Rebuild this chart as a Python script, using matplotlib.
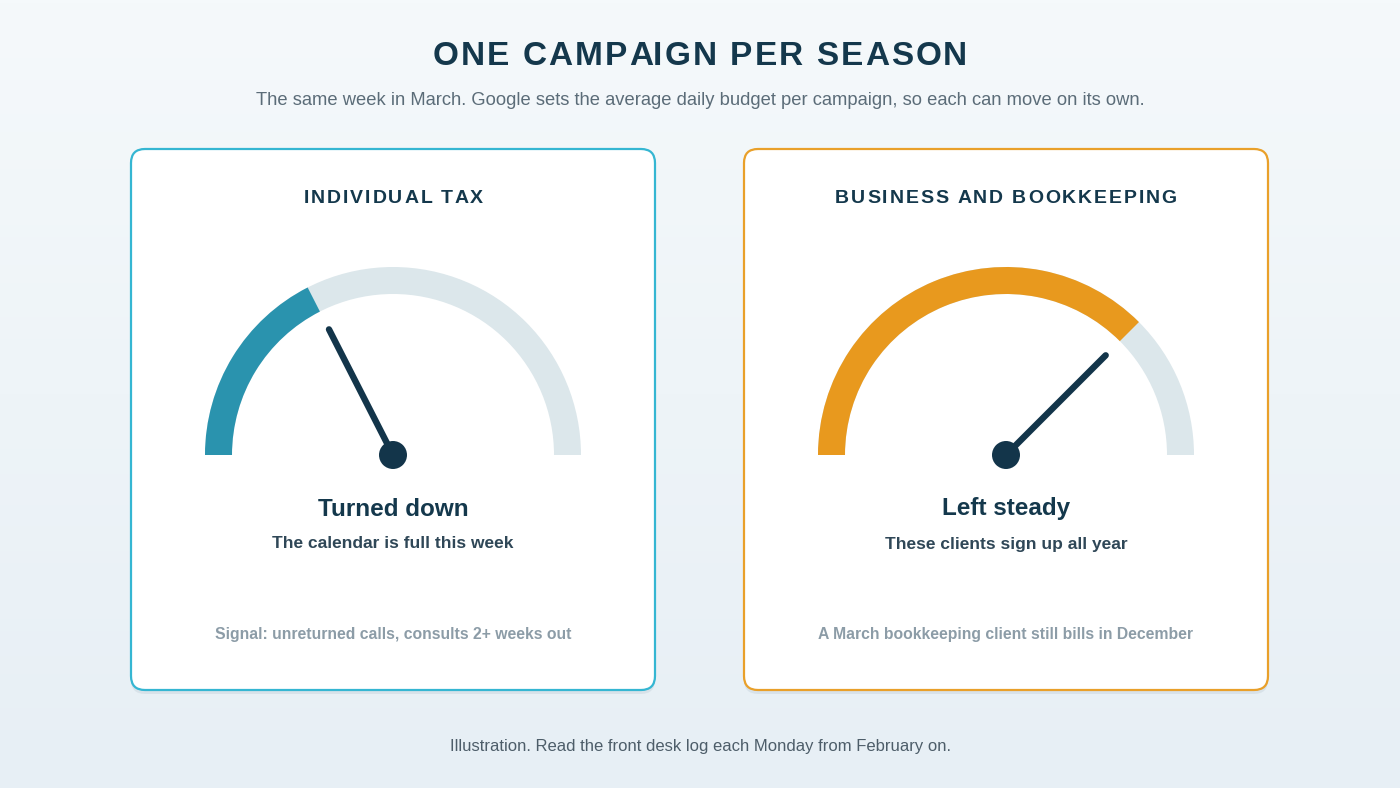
import numpy as np
import matplotlib
matplotlib.use("Agg")
import matplotlib.pyplot as plt
from matplotlib.patches import Wedge, Circle, FancyBboxPatch
from matplotlib.colors import LinearSegmentedColormap

plt.rcParams['font.family'] = ['Liberation Sans', 'DejaVu Sans']

# ---- data ----
title = "ONE CAMPAIGN PER SEASON"
subtitle = ("The same week in March. Google sets the average daily budget per campaign, "
            "so each can move on its own.")
footer = "Illustration. Read the front desk log each Monday from February on."
card_titles = ["INDIVIDUAL TAX", "BUSINESS AND BOOKKEEPING"]
gauge_values = [0.35, 0.75]          # share of the dial filled (0 = left, 1 = right)
verdicts = ["Turned down", "Left steady"]
reasons = ["The calendar is full this week", "These clients sign up all year"]
notes = ["Signal: unreturned calls, consults 2+ weeks out",
         "A March bookkeeping client still bills in December"]
accent_colors = ["#2a93ae", "#e8991e"]
border_colors = ["#35b6d2", "#e9a02a"]

W, H = 1400, 788
fig = plt.figure(figsize=(W / 100, H / 100), dpi=100)
ax = fig.add_axes([0, 0, 1, 1])
ax.set_xlim(0, W)
ax.set_ylim(H, 0)
ax.axis('off')
renderer = fig.canvas.get_renderer()


def spaced_text(xc, y, s, spacing, **kw):
    """Draw text centred at xc with extra letter spacing (pixels)."""
    def width(t):
        if not t:
            return 0.0
        tt = ax.text(0, 0, t, **kw)
        w = tt.get_window_extent(renderer).width
        tt.remove()
        return w
    total = width(s) + spacing * (len(s) - 1)
    x0 = xc - total / 2
    for i, ch in enumerate(s):
        if ch == ' ':
            continue
        xi = x0 + width(s[:i]) + spacing * i
        ax.text(xi, y, ch, ha='left', va='center', **kw)


# background gradient
grad = np.linspace(0, 1, 256).reshape(-1, 1)
bg = LinearSegmentedColormap.from_list('bg', ['#f5f9fb', '#e7eff5'])
ax.imshow(grad, extent=[0, W, H, 0], cmap=bg, aspect='auto', zorder=0)

spaced_text(W / 2, 56, title, 2.1, fontsize=24, fontweight='bold',
            color='#14384c', zorder=5)
ax.text(W / 2, 100, subtitle, ha='center', va='center', fontsize=13.2,
        color='#5b6c78', zorder=5)
ax.text(W / 2, 747, footer, ha='center', va='center', fontsize=12.0,
        color='#4d5d69', zorder=5)

card_x = [131, 744]
card_w, card_y, card_h = 524, 149, 541
r_out, r_in = 188, 161

for i in range(2):
    x0 = card_x[i]
    cx = x0 + card_w / 2
    sh = FancyBboxPatch((x0 + 14, card_y + 14 + 4), card_w - 28, card_h - 28,
                        boxstyle="round,pad=14", fc='#c9d6de', ec='none', alpha=0.5, zorder=1)
    ax.add_patch(sh)
    card = FancyBboxPatch((x0 + 14, card_y + 14), card_w - 28, card_h - 28,
                          boxstyle="round,pad=14", fc='white', ec=border_colors[i],
                          lw=1.6, zorder=2)
    ax.add_patch(card)

    spaced_text(cx, 198, card_titles[i], 1.9, fontsize=14, fontweight='bold',
                color='#14384c', zorder=5)

    gy = 455
    v = gauge_values[i]
    end_ang = 180 - 180 * v
    # y axis is inverted, so the upper half-circle spans angles -180..0
    ax.add_patch(Wedge((cx, gy), r_out, -180, 0, width=r_out - r_in,
                       fc='#dce7eb', ec='none', zorder=3))
    ax.add_patch(Wedge((cx, gy), r_out, -180, -end_ang, width=r_out - r_in,
                       fc=accent_colors[i], ec='none', zorder=3))
    L = 141
    th = np.deg2rad(end_ang)
    ax.plot([cx, cx + L * np.cos(th)], [gy, gy - L * np.sin(th)], color='#13354a',
            lw=4.6, solid_capstyle='round', zorder=4)
    ax.add_patch(Circle((cx, gy), 14, fc='#13354a', ec='none', zorder=4))

    ax.text(cx, 509, verdicts[i], ha='center', va='center', fontsize=17.5,
            fontweight='bold', color='#14384c', zorder=5)
    ax.text(cx, 544, reasons[i], ha='center', va='center', fontsize=12.5,
            fontweight='bold', color='#2f4757', zorder=5)
    ax.text(cx, 634, notes[i], ha='center', va='center', fontsize=11.3,
            fontweight='bold', color='#8c9ca7', zorder=5)

fig.savefig("out.png", dpi=100)
